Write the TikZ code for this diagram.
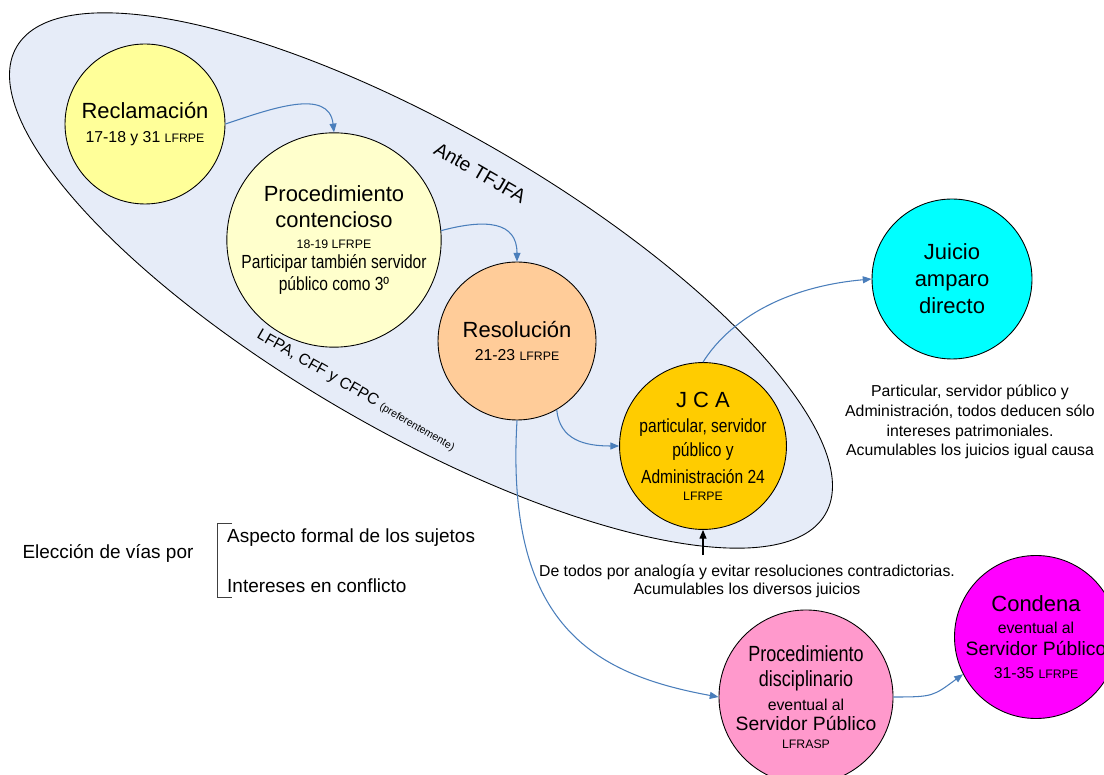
\documentclass[tikz,border=0pt]{standalone}
\usepackage{fontspec}
\setmainfont{Liberation Sans}
\newfontfamily\narrowfont[FakeStretch=0.82]{Liberation Sans}
\usetikzlibrary{arrows.meta}
\definecolor{ovalfill}{RGB}{230,236,248}
\definecolor{flowblue}{RGB}{74,126,187}
\definecolor{reclfill}{RGB}{255,255,153}
\definecolor{contfill}{RGB}{255,255,204}
\definecolor{resolfill}{RGB}{255,204,153}
\definecolor{jcafill}{RGB}{255,204,0}
\definecolor{amparofill}{RGB}{0,255,255}
\definecolor{discfill}{RGB}{255,153,204}
\definecolor{condenafill}{RGB}{255,0,255}
\newcommand{\fbig}{\fontsize{12.5}{15}\selectfont}
\newcommand{\fsrv}{\fontsize{11}{13}\selectfont}
\newcommand{\fmid}{\fontsize{9}{11}\selectfont}
\newcommand{\fsml}{\fontsize{7}{9}\selectfont}
\newcommand{\fnar}{\narrowfont\fontsize{10.8}{12.5}\selectfont}

\begin{document}
\begin{tikzpicture}[x=0.02cm, y=0.02cm,
  etapa/.style={circle, draw, line width=0.5pt, inner sep=0pt, minimum size=3.2cm, align=center, font=\fbig},
  flujo/.style={draw=flowblue, line width=0.6pt, -{Triangle[length=5pt,width=4pt]}},
  nota/.style={align=center, font=\fontsize{9}{11.3}\selectfont}]
\useasboundingbox (0,0) rectangle (1104,774);

% zona ante el tribunal
\draw[fill=ovalfill, line width=0.5pt, rotate around={-30:(421,493.5)}] (421,493.5) ellipse [x radius=467, y radius=151];
\node[rotate=-30] (ante) at (480,601) {\fsrv Ante TFJFA};
\node[rotate=-30] (leyes) at (356,383) {\fmid LFPA, CFF y CFPC {\fontsize{6}{7}\selectfont (preferentemente)}};

% etapas
\node[etapa, fill=reclfill] (recl) at (145,650) {Reclamación\\[-1.4pt] \fmid 17-18 y 31 {\fsml LFRPE}};
\node[etapa, fill=contfill, minimum size=4.08cm] (cont) at (334,534) {Procedimiento\\[-0.3pt] contencioso\\[-2.5pt] \fsml 18-19 LFRPE\\[-3.7pt] \fnar Participar también servidor\\[-2.5pt] \fnar público como 3º};
\node[etapa, fill=resolfill, minimum size=3.16cm] (resol) at (517,433) {Resolución\\[-1.4pt] \fmid 21-23 {\fsml LFRPE}};
\node[etapa, fill=jcafill] (jca) at (703,328) {J C A\\[-0.8pt] \fnar particular, servidor\\[-1.1pt] \fnar público y\\[0.3pt] \fnar Administración 24\\[-5.4pt] \fsml LFRPE};
\node[etapa, fill=amparofill] (amparo) at (952,495) {Juicio\\[0.3pt] amparo\\[0.3pt] directo};
\node[etapa, fill=discfill] (disc) at (806,77) {\narrowfont Procedimiento\\[-0.3pt] \narrowfont disciplinario\\[-1.4pt] \fmid eventual al\\[-3.7pt] \fsrv Servidor Público\\[-4.8pt] \fsml LFRASP};
\node[etapa, fill=condenafill] (condena) at (1036,137) {Condena\\[-2.5pt] \fmid eventual al\\[-2.5pt] \fsrv Servidor Público\\[-2pt] \fmid 31-35 {\fsml LFRPE}};

% notas
\node[nota] (nota1) at (970,352) {Particular, servidor público y\\ Administración, todos deducen sólo\\ intereses patrimoniales.\\ Acumulables los juicios igual causa};
\node[nota, font=\fontsize{9}{10.4}\selectfont] (nota2) at (747,193) {De todos por analogía y evitar resoluciones contradictorias.\\ Acumulables los diversos juicios};
\coordinate (nota2top) at (703,219);

% eleccion de vias
\node[font=\fontsize{10.8}{13}\selectfont] (eleccion) at (108,221) {Elección de vías por};
\node[anchor=west, font=\fontsize{10.8}{13}\selectfont] (aspecto) at (221,236) {Aspecto formal de los sujetos};
\node[anchor=west, font=\fontsize{10.8}{13}\selectfont] (intereses) at (221,188) {Intereses en conflicto};
\draw[black!75, line width=0.5pt] (232,251) -- (217,251) -- (217,177) -- (232,177);

% conectores
\draw[flujo] (recl.east) .. controls +(45,15) and +(-5,45) .. (cont.north);
\draw[flujo] (cont.5) .. controls +(45,12) and +(0,40) .. (resol.north);
\draw[flujo] (resol.-60) .. controls +(3,-30) and +(-35,0) .. (jca.west);
\draw[flujo] (jca.north) .. controls +(25,40) and +(-90,-8) .. (amparo.west);
\draw[flujo] (resol.south) .. controls +(-12,-204) and +(-126,23) .. (disc.west);
\draw[flujo] (disc.east) .. controls +(40,0) and +(-30,-22) .. (condena.207);
\draw[line width=0.6pt, -{Triangle[length=5pt,width=4pt]}] (nota2top) -- (jca.south);
\end{tikzpicture}
\end{document}
